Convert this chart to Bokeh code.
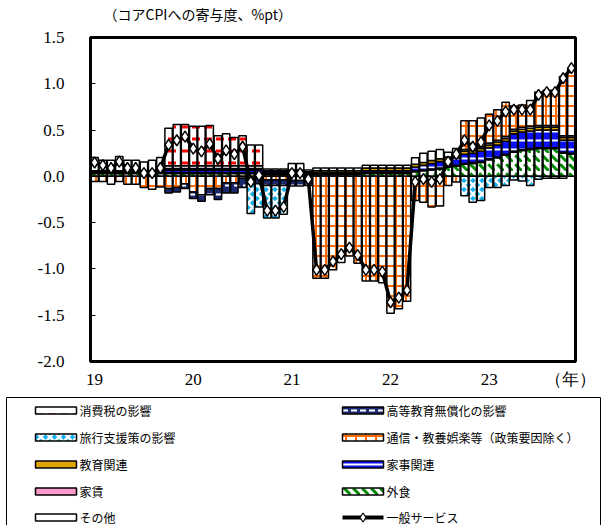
import numpy as np
from bokeh.plotting import figure
from bokeh.models import Range1d, FixedTicker, ColumnDataSource, PrintfTickFormatter
from bokeh.embed import file_html
from bokeh.resources import INLINE
from bokeh.core.properties import value

# ---------------- data (monthly, Jan 2019 - Nov 2023) ----------------
year_ticks = [0, 12, 24, 36, 48]
year_labels = ["19", "20", "21", "22", "23"]
unit_label = "（年）"
title_text = "（コアCPIへの寄与度、%pt）"

eat = [0.03, 0.03, 0.03, 0.03, 0.03, 0.03, 0.03, 0.03, 0.03,
       0.03, 0.03, 0.03, 0.03, 0.03, 0.03, 0.03, 0.03, 0.03, 0.03, 0.03, 0.03,
       0.02, 0.02, 0.02, 0.02, 0.02, 0.01,
       0.02, 0.02, 0.02, 0.02, 0.02, 0.02, 0.03, 0.03, 0.03, 0.03, 0.03, 0.03,
       0.05, 0.06, 0.07, 0.08, 0.10, 0.11, 0.13, 0.14, 0.15, 0.18, 0.20, 0.23,
       0.26, 0.28, 0.29, 0.30, 0.30, 0.30, 0.25, 0.24]
rent = [0.01, 0.01, 0.01, 0.01, 0.01, 0.01, 0.01, 0.01, 0.01,
        0.01, 0.01, 0.01, 0.01, 0.01, 0.01, 0.01, 0.01, 0.01, 0.01, 0.01, 0.01,
        0.01, 0.01, 0.01, 0.01, 0.01, 0.01,
        0.01, 0.01, 0.01, 0.01, 0.01, 0.01, 0.01, 0.01, 0.01, 0.01, 0.01, 0.01,
        0.01, 0.01, 0.01, 0.01, 0.01, 0.01, 0.01, 0.01, 0.01, 0.01, 0.01, 0.01,
        0.01, 0.01, 0.01, 0.01, 0.01, 0.01, 0.01, 0.01]
house = [0.01, 0.01, 0.01, 0.01, 0.01, 0.01, 0.01, 0.01, 0.01,
         0.03, 0.03, 0.03, 0.03, 0.03, 0.03, 0.03, 0.03, 0.03, 0.03, 0.03, 0.03,
         0.02, 0.02, 0.02, 0.03, 0.03, 0.02,
         0.01, 0.01, 0.01, 0.01, 0.01, 0.01, 0.02, 0.02, 0.02, 0.02, 0.02, 0.02,
         0.04, 0.05, 0.06, 0.07, 0.07, 0.08, 0.10, 0.10, 0.11, 0.12, 0.13, 0.14,
         0.19, 0.19, 0.19, 0.19, 0.19, 0.19, 0.13, 0.14]
edu = [0.01, 0.01, 0.01, 0.01, 0.01, 0.01, 0.01, 0.01, 0.01,
       0.015, 0.015, 0.015, 0.015, 0.015, 0.015, 0.015, 0.015, 0.015, 0.015, 0.015, 0.015,
       0.01, 0.01, 0.01, 0.01, 0.01, 0.01,
       0.02, 0.02, 0.02, 0.02, 0.02, 0.02, 0.03, 0.03, 0.03, 0.03, 0.03, 0.03,
       0.03, 0.03, 0.03, 0.03, 0.03, 0.03, 0.03, 0.03, 0.03, 0.03, 0.03, 0.03,
       0.03, 0.03, 0.03, 0.03, 0.03, 0.03, 0.03, 0.03]
other = [0.145, 0.115, 0.115, 0.155, 0.115, 0.115, 0.095, 0.115, 0.145,
         0.03, 0.03, 0.03, 0.03, 0.03, 0.03, 0.03, 0.03, 0.03, 0.03, 0.03, 0.03,
         0.02, 0.02, 0.02, 0.07, 0.07, 0.02,
         0.03, 0.03, 0.03, 0.03, 0.03, 0.03, 0.03, 0.03, 0.03, 0.03, 0.03, 0.03,
         0.07, 0.10, 0.10, 0.10, 0.05, 0.07, 0.02, 0.02, 0.02, 0.02, 0.02, 0.02,
         0.02, 0.02, 0.02, 0.02, 0.02, 0.02, 0.02, 0.02]
comm = [-0.055, -0.055, -0.085, -0.055, -0.085, -0.085, -0.12, -0.14, -0.115,
        -0.13, -0.12, -0.08, -0.17, -0.20, -0.13, -0.13, -0.07, -0.07, -0.02, -0.02, -0.02,
        -0.04, -0.04, -0.04, -0.045, -0.045, -0.04,
        -1.10, -1.10, -1.01, -0.93, -0.86, -0.94, -1.13, -1.13, -1.15, -1.48, -1.43, -1.35,
        -0.26, -0.28, -0.33, -0.32, -0.10, -0.06, 0.31, 0.30, 0.31, 0.31, 0.33, 0.37,
        0.25, 0.24, 0.28, 0.36, 0.38, 0.38, 0.64, 0.73]
hedu = [0, 0, 0, 0, 0, 0, 0, 0, 0,
        -0.05, -0.05, -0.05, -0.07, -0.07, -0.07, -0.12, -0.11, -0.11, -0.10, -0.06, -0.06,
        -0.06, -0.06, -0.06, -0.06, -0.06, -0.06,
        0, 0, 0, 0, 0, 0, 0, 0, 0, 0, 0, 0,
        0, 0, 0, 0, 0, 0, 0, 0, 0, 0, 0, 0,
        0, 0, 0, 0, 0, 0, 0, 0]
travel = [0, 0, 0, 0, 0, 0, 0, 0, 0,
          0, 0, 0, 0, 0, 0, 0, 0, 0, 0, -0.32, -0.25,
          -0.35, -0.35, -0.31, 0, 0, 0,
          0, 0, 0, 0, 0, 0, 0, 0, 0, 0, 0, 0,
          0, 0, 0, 0, 0, 0, -0.21, -0.28, -0.26, -0.12, -0.12, -0.10,
          -0.04, -0.05, -0.10, -0.03, -0.02, -0.02, -0.02, 0]
ctax = [0, 0, 0, 0, 0, 0, 0, 0, 0,
        0.405, 0.445, 0.445, 0.425, 0.425, 0.435, 0.325, 0.345, 0.305, 0.325, 0.225, 0.225,
        0, 0, 0, 0, 0, 0,
        0, 0, 0, 0, 0, 0, 0, 0, 0, 0, 0, 0,
        0, 0, 0, 0, 0, 0, 0, 0, 0, 0, 0, 0,
        0, 0, 0, 0, 0, 0, 0, 0]
general = [0.15, 0.12, 0.09, 0.16, 0.09, 0.09, 0.035, 0.035, 0.09,
           0.34, 0.39, 0.43, 0.30, 0.27, 0.35, 0.19, 0.28, 0.24, 0.32, -0.06, 0.01,
           -0.37, -0.37, -0.33, 0.035, 0.035, -0.03,
           -1.01, -1.01, -0.92, -0.84, -0.77, -0.85, -1.01, -1.01, -1.03, -1.36, -1.31, -1.23,
           -0.06, -0.03, -0.06, -0.03, 0.16, 0.24, 0.39, 0.32, 0.37, 0.55, 0.60, 0.70,
           0.72, 0.72, 0.72, 0.88, 0.91, 0.91, 1.06, 1.17]

names = {
    "ctax": "消費税の影響", "hedu": "高等教育無償化の影響", "travel": "旅行支援策の影響",
    "comm": "通信・教養娯楽等（政策要因除く）", "edu": "教育関連", "house": "家事関連",
    "rent": "家賃", "eat": "外食", "other": "その他", "general": "一般サービス",
}

styles = {
    "ctax": dict(fill_color="white", hatch_pattern="horizontal_dash", hatch_color="#ff0000", hatch_weight=3, hatch_scale=12),
    "hedu": dict(fill_color="#1b2a6e", hatch_pattern="horizontal_dash", hatch_color="white", hatch_weight=2, hatch_scale=9),
    "travel": dict(fill_color="#12b0ee", hatch_pattern="diagonal_cross", hatch_color="white", hatch_weight=2.5, hatch_scale=9),
    "comm": dict(fill_color="white", hatch_pattern="cross", hatch_color="#ff6a00", hatch_weight=2, hatch_scale=10),
    "edu": dict(fill_color="#e0a400"),
    "house": dict(fill_color="#0a10f0", hatch_pattern="horizontal_line", hatch_color="white", hatch_weight=2, hatch_scale=9),
    "rent": dict(fill_color="#ff99cc"),
    "eat": dict(fill_color="white", hatch_pattern="left_diagonal_dash", hatch_color="#008a00", hatch_weight=3, hatch_scale=9),
    "other": dict(fill_color="white"),
}
series = {"eat": eat, "rent": rent, "house": house, "edu": edu, "other": other,
          "comm": comm, "hedu": hedu, "travel": travel, "ctax": ctax}
stack_order = ["eat", "rent", "house", "edu", "other", "comm", "hedu", "travel", "ctax"]

N = len(general)
x = np.arange(N)

# ---------------- layout (pixels) ----------------
W, H = 608, 525
FL, FR, FT, FB = 90, 575, 37, 361          # chart box in canvas pixels
XMIN, XMAX, YMIN, YMAX = -0.5, N - 0.5, -2.0, 1.5
sx = (FR - FL) / (XMAX - XMIN)
sy = (FB - FT) / (YMAX - YMIN)
x_range = Range1d(XMIN - FL / sx, XMAX + (W - FR) / sx)
y_range = Range1d(YMIN - (H - FB) / sy, YMAX + FT / sy)

def dx(px):
    return XMIN + (px - FL) / sx

def dy(py):
    return YMAX - (py - FT) / sy

p = figure(width=W, height=H, x_range=x_range, y_range=y_range,
           toolbar_location=None, output_backend="svg", min_border=0)
p.xgrid.visible = False
p.ygrid.visible = False
p.outline_line_color = None
p.background_fill_color = "white"
p.border_fill_color = "white"

# stacked bars (positive and negative parts stacked separately)
pos_base = np.zeros(N)
neg_base = np.zeros(N)
for key in stack_order:
    v = np.array(series[key], dtype=float)
    bottom = np.where(v >= 0, pos_base, neg_base)
    top = bottom + v
    pos_base = np.where(v > 0, top, pos_base)
    neg_base = np.where(v < 0, top, neg_base)
    m = v != 0
    src = ColumnDataSource(dict(x=x[m], top=top[m], bottom=bottom[m]))
    p.vbar(x="x", top="top", bottom="bottom", width=0.9, source=src,
           line_color="black", line_width=1.5, **styles[key])

p.line(x, general, line_color="black", line_width=3.5)
p.scatter(x, general, marker="diamond", size=11, fill_color="white", line_color="black", line_width=1.5)

# chart box
p.quad(left=[XMIN], right=[XMAX], bottom=[YMIN], top=[YMAX], fill_alpha=0,
       line_color="black", line_width=3)

# axes fixed on the chart box
p.yaxis.fixed_location = XMIN
p.yaxis.ticker = FixedTicker(ticks=[-2.0, -1.5, -1.0, -0.5, 0.0, 0.5, 1.0, 1.5])
p.yaxis.formatter = PrintfTickFormatter(format="%.1f")
p.yaxis.axis_line_color = None
p.yaxis.major_tick_in = 5
p.yaxis.major_tick_out = 0
p.yaxis.major_tick_line_width = 1
p.yaxis.minor_tick_line_color = None
p.yaxis.major_label_standoff = 26
p.yaxis.major_label_text_font = "Liberation Serif"
p.yaxis.major_label_text_font_size = "17px"
p.yaxis.major_label_text_color = "black"

unit_pos = 57.9
p.xaxis.fixed_location = YMIN
p.xaxis.ticker = FixedTicker(ticks=year_ticks + [unit_pos])
ov = {t: l for t, l in zip(year_ticks, year_labels)}
ov[unit_pos] = unit_label
p.xaxis.major_label_overrides = ov
p.xaxis.axis_line_color = None
p.xaxis.major_tick_line_color = None
p.xaxis.major_tick_out = 0
p.xaxis.major_tick_in = 0
p.xaxis.minor_tick_line_color = None
p.xaxis.major_label_standoff = 8
p.xaxis.major_label_text_font = "Liberation Serif"
p.xaxis.major_label_text_font_size = "17px"
p.xaxis.major_label_text_color = "black"

# title text above the chart box
p.text([dx(103)], [dy(13)], text=[title_text], text_font=value("Noto Sans CJK JP"),
       text_font_size="14px", text_baseline="middle", text_align="left", text_color="black")

# ---------------- legend (below the chart) ----------------
p.line([dx(6), dx(6), dx(600), dx(600)], [dy(540), dy(397), dy(397), dy(540)],
       line_color="black", line_width=1)

legend_order = ["ctax", "hedu", "travel", "comm", "edu", "house", "rent", "eat", "other", "general"]
col_x = [35, 342]
row_y = [410, 437, 464, 491, 517]
SW = 41
for i, key in enumerate(legend_order):
    cx = col_x[i % 2]
    cy = row_y[i // 2]
    if key == "general":
        p.line([dx(cx), dx(cx + SW)], [dy(cy), dy(cy)], line_color="black", line_width=4)
        p.scatter([dx(cx + SW / 2)], [dy(cy)], marker="diamond", size=9, fill_color="white",
                  line_color="black", line_width=1.2)
    else:
        p.quad(left=[dx(cx)], right=[dx(cx + SW)], top=[dy(cy - 3.5)], bottom=[dy(cy + 3.5)],
               line_color="black", line_width=1.5, **styles[key])
    p.text([dx(cx + SW + 3)], [dy(cy)], text=[names[key]], text_font=value("Noto Sans CJK JP"),
           text_font_size="12px", text_baseline="middle", text_align="left", text_color="black")

open("out.html", "w").write(file_html(p, INLINE))
